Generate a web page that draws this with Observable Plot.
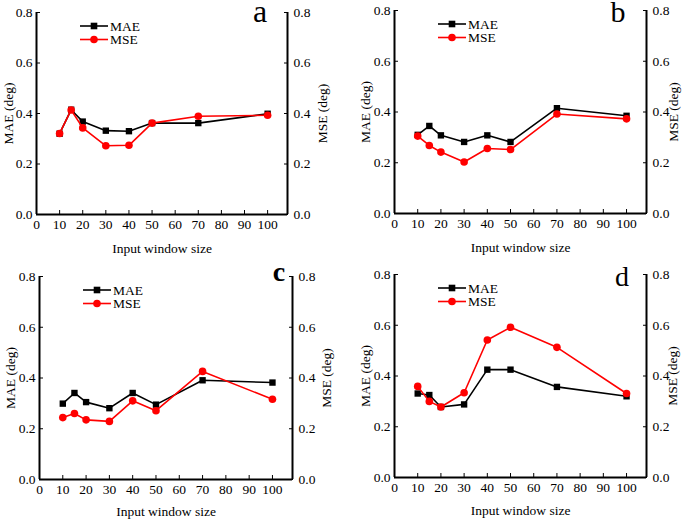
<!DOCTYPE html>
<html>
<head>
<meta charset="utf-8">
<script src="https://cdn.jsdelivr.net/npm/d3@7"></script>
<script src="https://cdn.jsdelivr.net/npm/@observablehq/plot@0.6"></script>
<style>
  html, body { margin: 0; padding: 0; background: #fff; }
  #wrap { position: relative; width: 685px; height: 519px; overflow: hidden; }
  #wrap > div { position: absolute; }
</style>
</head>
<body>
<div id="wrap"></div>
<script>
// ---- data ----
const windowSizes = [10, 15, 20, 30, 40, 50, 70, 100];
const maeA = [0.320, 0.415, 0.368, 0.332, 0.330, 0.362, 0.362, 0.399];
const mseA = [0.321, 0.414, 0.343, 0.272, 0.274, 0.362, 0.389, 0.393];
const maeB = [0.310, 0.345, 0.308, 0.282, 0.308, 0.282, 0.415, 0.385];
const mseB = [0.305, 0.268, 0.242, 0.203, 0.256, 0.252, 0.392, 0.373];
const maeC = [0.299, 0.341, 0.305, 0.281, 0.341, 0.295, 0.391, 0.382];
const mseC = [0.244, 0.260, 0.235, 0.229, 0.310, 0.271, 0.426, 0.316];
const maeD = [0.331, 0.325, 0.278, 0.288, 0.425, 0.425, 0.357, 0.320];
const mseD = [0.359, 0.300, 0.278, 0.334, 0.542, 0.592, 0.513, 0.331];
const xTicks = [0, 10, 20, 30, 40, 50, 60, 70, 80, 90, 100];
const yTicks = [0, 0.2, 0.4, 0.6, 0.8];
const seriesNames = ["MAE", "MSE"];
const panelLetters = ["a", "b", "c", "d"];

const XMAX = 108.6;
const FONT = "'Liberation Serif', 'Times New Roman', serif";

const panels = [
  {mae: maeA, mse: mseA, letter: panelLetters[0], left: 0,   top: 0,   w: 342, h: 260, ml: 36, mr: 55, mt: 12, mb: 46, lo: 33.5, ro: 39, xo: 38, lx: -27, ly: 10, lsize: 32, lbold: false},
  {mae: maeB, mse: mseB, letter: panelLetters[1], left: 342, top: 0,   w: 343, h: 260, ml: 52, mr: 39, mt: 10, mb: 47, lo: 34, ro: 31, xo: 38, lx: -28, ly: 12, lsize: 30, lbold: false},
  {mae: maeC, mse: mseC, letter: panelLetters[2], left: 0,   top: 260, w: 342, h: 259, ml: 39, mr: 50, mt: 16, mb: 40, lo: 34, ro: 38, xo: 36, lx: -13, ly: 5,  lsize: 28, lbold: true},
  {mae: maeD, mse: mseD, letter: panelLetters[3], left: 342, top: 260, w: 343, h: 259, ml: 52, mr: 39, mt: 14, mb: 42, lo: 34, ro: 30, xo: 37, lx: -24, ly: 12, lsize: 28, lbold: false}
];

const wrap = document.getElementById("wrap");

for (const p of panels) {
  const maeData = windowSizes.map((x, i) => ({x, y: p.mae[i]}));
  const mseData = windowSizes.map((x, i) => ({x, y: p.mse[i]}));
  const chart = Plot.plot({
    width: p.w, height: p.h,
    marginLeft: p.ml, marginRight: p.mr, marginTop: p.mt, marginBottom: p.mb,
    x: {domain: [0, XMAX]},
    y: {domain: [0, 0.8]},
    style: {fontFamily: FONT, fontSize: "13.5px", color: "#000", background: "#fff", overflow: "visible"},
    marks: [
      Plot.axisX({ticks: xTicks, tickSize: -4, tickPadding: 9, tickFormat: d => String(d), fontSize: 13.5,
        label: "Input window size", labelAnchor: "center", labelOffset: p.xo, labelArrow: false}),
      Plot.axisY({anchor: "left", ticks: yTicks, tickSize: -4, tickPadding: 8, tickFormat: d3.format(".1f"), fontSize: 13.5,
        label: "MAE (deg)", labelAnchor: "center", labelOffset: p.lo, labelArrow: false}),
      Plot.axisY({anchor: "right", ticks: yTicks, tickSize: -4, tickPadding: 10, tickFormat: d3.format(".1f"), fontSize: 13.5,
        label: "MSE (deg)", labelAnchor: "center", labelOffset: p.ro, labelArrow: false}),
      Plot.ruleX([0], {strokeWidth: 2}),
      Plot.ruleX([XMAX], {strokeWidth: 2}),
      Plot.ruleY([0], {strokeWidth: 2}),
      Plot.line(maeData, {x: "x", y: "y", stroke: "#000", strokeWidth: 1.6}),
      Plot.dot(maeData, {x: "x", y: "y", symbol: "square", fill: "#000", r: 3.6}),
      Plot.line(mseData, {x: "x", y: "y", stroke: "#f00", strokeWidth: 1.6}),
      Plot.dot(mseData, {x: "x", y: "y", symbol: "circle", fill: "#f00", r: 3.8})
    ]
  });
  const holder = document.createElement("div");
  holder.style.left = p.left + "px";
  holder.style.top = p.top + "px";
  holder.appendChild(chart);
  wrap.appendChild(holder);

  // legend + panel letter
  const svg = d3.select(chart);
  const g = svg.append("g").attr("font-family", FONT).attr("font-size", 13.5).attr("text-anchor", "start");
  const colors = ["#000", "#f00"];
  seriesNames.forEach((name, i) => {
    const yy = p.mt + 14 + i * 13.5;
    const x0 = p.ml + 44, x1 = p.ml + 72, xm = (x0 + x1) / 2;
    g.append("line").attr("x1", x0).attr("x2", x1).attr("y1", yy).attr("y2", yy)
      .attr("stroke", colors[i]).attr("stroke-width", 1.6);
    if (i === 0) g.append("rect").attr("x", xm - 3.3).attr("y", yy - 3.3).attr("width", 6.6).attr("height", 6.6).attr("fill", colors[i]);
    else g.append("circle").attr("cx", xm).attr("cy", yy).attr("r", 3.8).attr("fill", colors[i]);
    g.append("text").attr("x", x1 + 2).attr("y", yy).attr("dy", "0.35em").attr("fill", "#000")
      .attr("text-anchor", "start").text(name);
  });
  g.append("text")
    .attr("x", p.w - p.mr + p.lx).attr("y", p.mt + p.ly)
    .attr("text-anchor", "middle")
    .attr("font-size", p.lsize)
    .attr("font-weight", p.lbold ? "bold" : "normal")
    .attr("fill", "#000")
    .text(p.letter);
}
</script>
</body>
</html>
